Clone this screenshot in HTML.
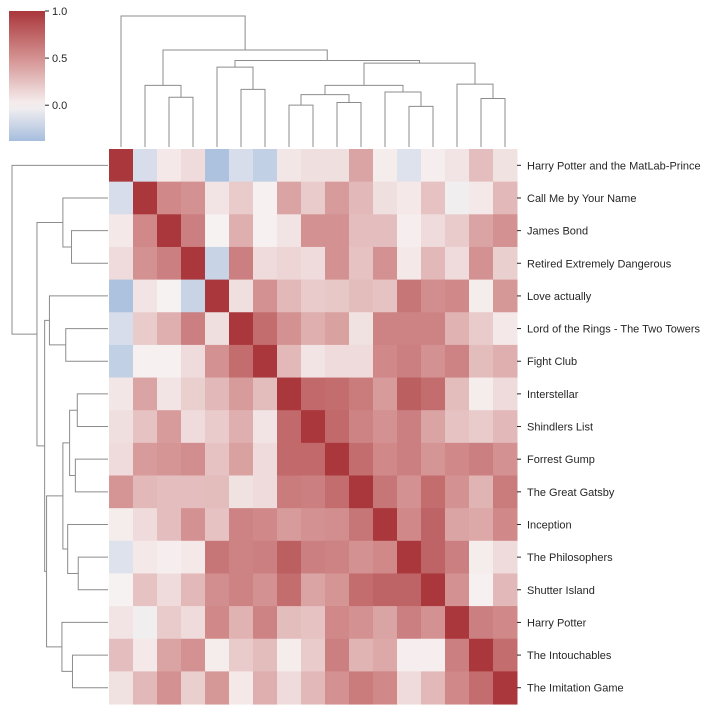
<!DOCTYPE html>
<html><head><meta charset="utf-8">
<style>
html,body{margin:0;padding:0;background:#fff;}
svg{display:block;font-family:"Liberation Sans",Arial,sans-serif;}
</style></head>
<body>
<svg id="chart" width="708" height="711" viewBox="0 0 708 711" xmlns="http://www.w3.org/2000/svg"></svg>
<script>
const labels = ["Harry Potter and the MatLab-Prince","Call Me by Your Name","James Bond","Retired Extremely Dangerous","Love actually","Lord of the Rings - The Two Towers","Fight Club","Interstellar","Shindlers List","Forrest Gump","The Great Gatsby","Inception","The Philosophers","Shutter Island","Harry Potter","The Intouchables","The Imitation Game"];
const matrix = [
[1,-0.15,0.05,0.12,-0.35,-0.15,-0.25,0.06,0.1,0.1,0.4,0.03,-0.12,0.02,0.07,0.27,0.08],
[-0.15,1,0.55,0.5,0.07,0.2,0.01,0.4,0.2,0.45,0.3,0.1,0.05,0.25,-0.03,0.05,0.3],
[0.05,0.55,1,0.6,0,0.35,0.01,0.07,0.5,0.5,0.27,0.27,0.02,0.12,0.2,0.4,0.5],
[0.12,0.5,0.6,1,-0.22,0.6,0.12,0.15,0.12,0.5,0.25,0.5,0.05,0.3,0.12,0.5,0.18],
[-0.35,0.07,0,-0.22,1,0.1,0.5,0.3,0.2,0.22,0.28,0.25,0.65,0.52,0.55,0.03,0.47],
[-0.15,0.2,0.35,0.6,0.1,1,0.7,0.5,0.35,0.42,0.08,0.58,0.58,0.58,0.33,0.2,0.05],
[-0.25,0.01,0.01,0.12,0.5,0.7,1,0.3,0.07,0.12,0.12,0.55,0.6,0.5,0.58,0.28,0.35],
[0.06,0.4,0.07,0.18,0.3,0.45,0.28,1,0.72,0.7,0.62,0.45,0.78,0.7,0.28,0.03,0.12],
[0.1,0.25,0.45,0.12,0.2,0.35,0.07,0.72,1,0.72,0.58,0.5,0.6,0.4,0.25,0.2,0.3],
[0.12,0.45,0.48,0.52,0.25,0.42,0.12,0.72,0.72,1,0.7,0.55,0.6,0.48,0.55,0.6,0.5],
[0.48,0.3,0.27,0.27,0.28,0.08,0.12,0.62,0.6,0.7,1,0.65,0.5,0.7,0.5,0.32,0.62],
[0.03,0.12,0.27,0.5,0.25,0.58,0.55,0.45,0.5,0.52,0.65,1,0.55,0.75,0.4,0.38,0.55],
[-0.12,0.05,0.02,0.05,0.65,0.58,0.6,0.78,0.6,0.58,0.5,0.55,1,0.75,0.6,0.03,0.12],
[0,0.25,0.12,0.3,0.52,0.58,0.5,0.7,0.4,0.48,0.7,0.75,0.75,1,0.5,0.01,0.3],
[0.07,-0.03,0.2,0.12,0.55,0.33,0.58,0.28,0.25,0.55,0.5,0.4,0.6,0.5,1,0.6,0.55],
[0.27,0.05,0.4,0.5,0.03,0.2,0.28,0.03,0.2,0.6,0.32,0.38,0.02,0.02,0.6,1,0.7],
[0.08,0.3,0.5,0.18,0.47,0.05,0.35,0.12,0.3,0.5,0.62,0.55,0.12,0.3,0.55,0.7,1]
];
const merges = [
[2,3,0.38],[1,17,0.47],[5,6,0.44],[4,19,0.61],[7,8,0.32],[9,10,0.34],
[21,22,0.40],[12,13,0.31],[11,24,0.42],[23,25,0.47],[15,16,0.37],[14,27,0.48],
[26,28,0.64],[20,29,0.66],[18,30,0.74],[0,31,1.0]
];
const cbTicks = [1.0,0.5,0.0];
const vmin = -0.38, vmax = 1.0;

const svg = document.getElementById('chart');
const NS = 'http://www.w3.org/2000/svg';
function mk(tag, attrs, parent){const e=document.createElementNS(NS,tag);for(const k in attrs)e.setAttribute(k,attrs[k]);(parent||svg).appendChild(e);return e;}

const hx0=109, hy0=149, cw=24, ch=32.65, n=labels.length;
function colX(i){return hx0+i*cw;}
function rowY(i){return hy0+i*ch;}
function lerp(a,b,t){return a+(b-a)*t;}
const stops=[[-1,[35,105,189]],[0,[247,242,242]],[0.5,[212,145,145]],[1,[169,55,59]]];
function color(v){
  v=Math.max(-1,Math.min(1,v));
  for(let i=0;i<stops.length-1;i++){
    const [a,ca]=stops[i],[b,cb]=stops[i+1];
    if(v>=a&&v<=b){const t=(v-a)/(b-a);return 'rgb('+ca.map((c,j)=>Math.round(lerp(c,cb[j],t))).join(',')+')';}
  }
  return 'rgb(169,55,59)';
}

const hm = mk('g',{});


for(let r=0;r<n;r++){for(let c=0;c<n;c++){
  const cell=mk('rect',{x:colX(c),y:rowY(r),width:cw+0.5,height:ch+0.5,fill:color(matrix[r][c])},hm);
  
  
}}
for(let r=0;r<n;r++){
  const y=rowY(r)+ch/2;
  const t=mk('line',{x1:hx0+n*cw,x2:hx0+n*cw+4,y1:y,y2:y,stroke:'#262626','stroke-width':1});
  
  
  const lb=mk('text',{x:527,y:y+4,'font-size':'11px',fill:'#262626'});
  lb.textContent=labels[r];
  
  
}

const pos={}, hgt={};
for(let i=0;i<n;i++){pos[i]=i+0.5;hgt[i]=0;}
const topBase=147, topScale=131, leftBase=108, leftScale=96;
const dt=mk('g',{fill:'none',stroke:'#8c8c8c','stroke-width':1});


const dl=mk('g',{fill:'none',stroke:'#8c8c8c','stroke-width':1});


merges.forEach((m,k)=>{
  const [a,b,h]=m, id=n+k;
  pos[id]=(pos[a]+pos[b])/2; hgt[id]=h;
  const xa=hx0+pos[a]*cw, xb=hx0+pos[b]*cw;
  const ya=topBase-hgt[a]*topScale, yb=topBase-hgt[b]*topScale, yh=topBase-h*topScale;
  const p1=mk('polyline',{points:`${xa},${ya} ${xa},${yh} ${xb},${yh} ${xb},${yb}`},dt);
  
  
  const ra=hy0+pos[a]*ch, rb=hy0+pos[b]*ch;
  const la=leftBase-hgt[a]*leftScale, lb2=leftBase-hgt[b]*leftScale, lh=leftBase-h*leftScale;
  const p2=mk('polyline',{points:`${la},${ra} ${lh},${ra} ${lh},${rb} ${lb2},${rb}`},dl);
  
  
});

const cbx=9, cbw=36, cbTop=11, cbBot=141;
function cbY(v){return cbTop+(vmax-v)/(vmax-vmin)*(cbBot-cbTop);}
const defs=mk('defs',{});
const grad=mk('linearGradient',{id:'cbg',x1:0,y1:0,x2:0,y2:1},defs);
for(let i=0;i<=20;i++){const v=vmax-(vmax-vmin)*i/20;mk('stop',{offset:(i/20),'stop-color':color(v)},grad);}
const cb=mk('rect',{x:cbx,y:cbTop,width:cbw,height:cbBot-cbTop,fill:'url(#cbg)'});


cbTicks.forEach(v=>{
  const y=cbY(v);
  const tl=mk('line',{x1:cbx+cbw,x2:cbx+cbw+4,y1:y,y2:y,stroke:'#262626','stroke-width':1});
  
  
  const tt=mk('text',{x:cbx+cbw+7,y:y+4,'font-size':'11px',fill:'#262626'});
  tt.textContent=v.toFixed(1);
  
  
});
</script>
</body></html>
